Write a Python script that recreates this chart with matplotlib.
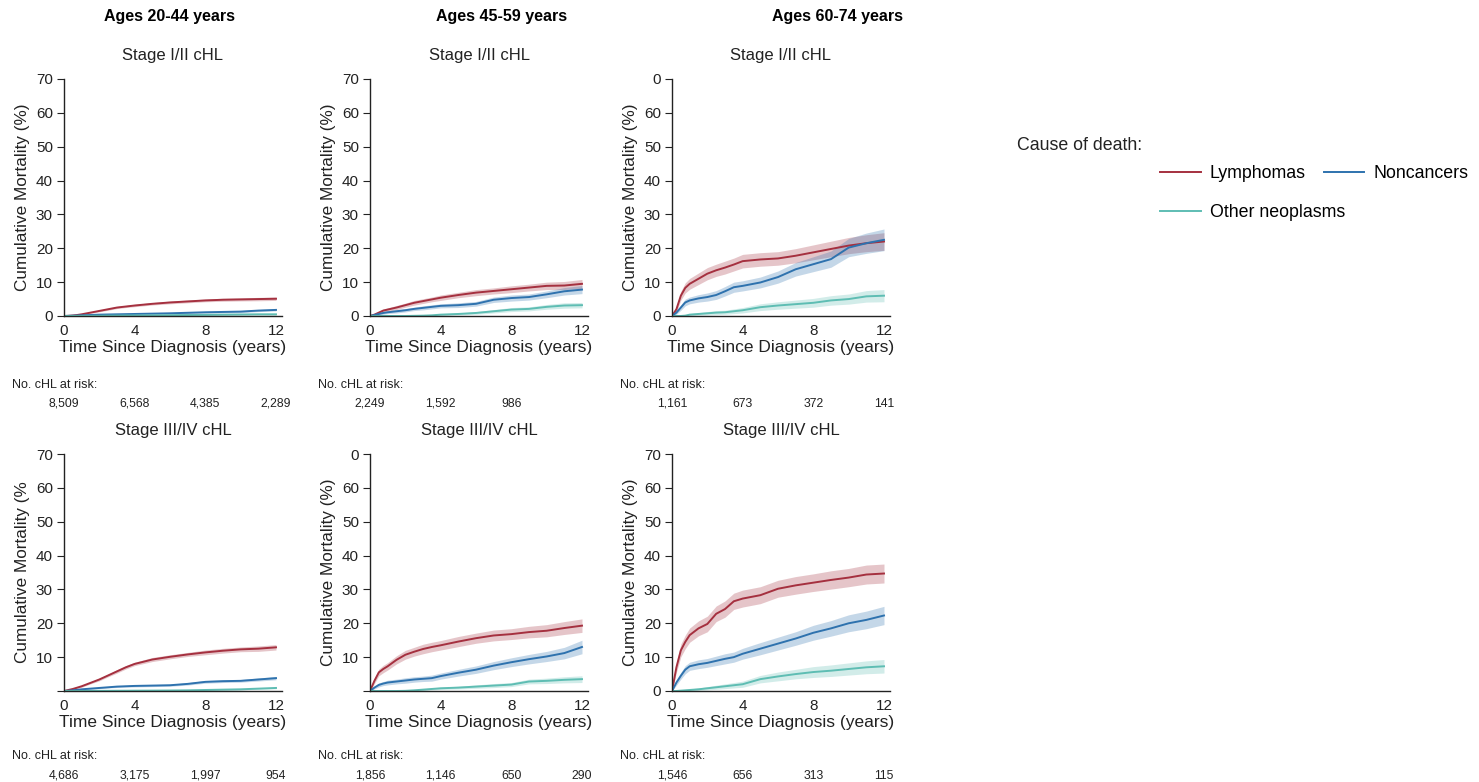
import matplotlib
matplotlib.use("Agg")
import matplotlib.pyplot as plt
from matplotlib.transforms import blended_transform_factory

plt.rcParams['font.family'] = ['Liberation Sans', 'DejaVu Sans']

# years since diagnosis (shared grid for all panels)
years = [0, 0.25, 0.5, 0.75, 1, 1.5, 2, 2.5, 3, 3.5, 4, 5, 6, 7, 8, 9, 10, 11, 12]

# ages 20-44, stage I/II
lym_a = [0, 0.05, 0.15, 0.3, 0.5, 1.0, 1.5, 2.0, 2.5, 2.8, 3.1, 3.6, 4.0, 4.3, 4.6, 4.8, 4.9, 5.0, 5.1]
lym_a_ci = [0, 0.05, 0.1, 0.1, 0.15, 0.2, 0.25, 0.3, 0.3, 0.3, 0.35, 0.35, 0.4, 0.4, 0.4, 0.45, 0.45, 0.5, 0.5]
non_a = [0, 0.05, 0.1, 0.15, 0.2, 0.3, 0.4, 0.45, 0.5, 0.55, 0.6, 0.7, 0.8, 0.95, 1.1, 1.2, 1.3, 1.6, 1.8]
non_a_ci = [0, 0.05, 0.05, 0.1, 0.1, 0.1, 0.15, 0.15, 0.15, 0.15, 0.2, 0.2, 0.2, 0.2, 0.25, 0.25, 0.3, 0.3, 0.3]
oth_a = [0, 0, 0, 0.02, 0.03, 0.05, 0.07, 0.1, 0.12, 0.15, 0.17, 0.2, 0.25, 0.3, 0.35, 0.4, 0.45, 0.5, 0.5]
oth_a_ci = [0, 0, 0, 0.02, 0.03, 0.05, 0.05, 0.08, 0.08, 0.1, 0.1, 0.1, 0.12, 0.15, 0.15, 0.15, 0.2, 0.2, 0.2]

# ages 45-59, stage I/II
lym_b = [0, 0.4, 1.0, 1.6, 1.9, 2.5, 3.2, 3.9, 4.4, 4.9, 5.4, 6.2, 6.9, 7.4, 7.9, 8.4, 8.9, 9.0, 9.5]
lym_b_ci = [0, 0.2, 0.4, 0.5, 0.5, 0.6, 0.6, 0.7, 0.7, 0.7, 0.8, 0.8, 0.9, 0.9, 1.0, 1.0, 1.1, 1.2, 1.3]
non_b = [0, 0.3, 0.6, 0.9, 1.1, 1.4, 1.7, 2.1, 2.4, 2.7, 3.0, 3.2, 3.6, 4.8, 5.3, 5.6, 6.4, 7.3, 7.8]
non_b_ci = [0, 0.2, 0.3, 0.4, 0.4, 0.5, 0.5, 0.5, 0.6, 0.6, 0.6, 0.7, 0.7, 0.8, 0.9, 0.9, 1.0, 1.1, 1.2]
oth_b = [0, 0, 0, 0, 0, 0, 0, 0.05, 0.1, 0.2, 0.4, 0.6, 0.9, 1.4, 1.9, 2.1, 2.7, 3.1, 3.2]
oth_b_ci = [0, 0, 0, 0, 0, 0, 0, 0.05, 0.1, 0.15, 0.25, 0.3, 0.4, 0.5, 0.6, 0.6, 0.7, 0.8, 0.8]

# ages 60-74, stage I/II
lym_c = [0, 2.0, 6.0, 8.3, 9.5, 11.0, 12.5, 13.5, 14.3, 15.2, 16.2, 16.7, 17.0, 17.8, 18.8, 19.8, 20.8, 21.5, 22.0]
lym_c_ci = [0, 0.8, 1.3, 1.5, 1.6, 1.7, 1.8, 1.8, 1.9, 1.9, 2.0, 2.0, 2.0, 2.1, 2.2, 2.3, 2.4, 2.5, 2.6]
non_c = [0, 1.0, 2.5, 4.0, 4.6, 5.2, 5.6, 6.2, 7.3, 8.5, 8.9, 9.9, 11.5, 13.8, 15.3, 16.8, 20.2, 21.5, 22.5]
non_c_ci = [0, 0.5, 0.8, 1.0, 1.0, 1.1, 1.2, 1.3, 1.4, 1.5, 1.5, 1.6, 1.8, 2.0, 2.2, 2.4, 2.7, 3.0, 3.2]
oth_c = [0, 0, 0, 0.1, 0.4, 0.6, 0.8, 1.0, 1.1, 1.4, 1.7, 2.6, 3.1, 3.5, 3.9, 4.6, 5.0, 5.8, 6.0]
oth_c_ci = [0, 0, 0, 0.1, 0.3, 0.4, 0.5, 0.6, 0.6, 0.7, 0.8, 1.0, 1.1, 1.2, 1.3, 1.4, 1.5, 1.7, 1.8]

# ages 20-44, stage III/IV
lym_d = [0, 0.3, 0.6, 1.0, 1.4, 2.4, 3.4, 4.6, 5.8, 7.0, 8.0, 9.3, 10.1, 10.8, 11.4, 11.9, 12.3, 12.5, 12.9]
lym_d_ci = [0, 0.1, 0.2, 0.2, 0.3, 0.3, 0.4, 0.4, 0.5, 0.5, 0.5, 0.6, 0.6, 0.6, 0.7, 0.7, 0.7, 0.8, 0.8]
non_d = [0, 0.1, 0.2, 0.35, 0.5, 0.7, 0.9, 1.1, 1.3, 1.4, 1.5, 1.6, 1.7, 2.1, 2.7, 2.9, 3.0, 3.4, 3.8]
non_d_ci = [0, 0.05, 0.1, 0.1, 0.15, 0.2, 0.2, 0.2, 0.25, 0.25, 0.3, 0.3, 0.3, 0.35, 0.4, 0.4, 0.4, 0.45, 0.5]
oth_d = [0, 0, 0, 0, 0.02, 0.03, 0.05, 0.05, 0.07, 0.08, 0.1, 0.12, 0.15, 0.2, 0.3, 0.4, 0.5, 0.7, 0.9]
oth_d_ci = [0, 0, 0, 0, 0.02, 0.03, 0.05, 0.05, 0.05, 0.07, 0.08, 0.1, 0.1, 0.12, 0.15, 0.15, 0.2, 0.2, 0.25]

# ages 45-59, stage III/IV
lym_e = [0, 3.0, 5.5, 6.5, 7.3, 9.2, 10.7, 11.6, 12.4, 13.0, 13.5, 14.6, 15.6, 16.4, 16.8, 17.4, 17.8, 18.6, 19.3]
lym_e_ci = [0, 0.8, 1.0, 1.1, 1.1, 1.2, 1.3, 1.3, 1.4, 1.4, 1.4, 1.5, 1.5, 1.6, 1.6, 1.7, 1.8, 1.9, 2.0]
non_e = [0, 1.0, 1.8, 2.2, 2.5, 2.8, 3.1, 3.4, 3.6, 3.8, 4.4, 5.4, 6.3, 7.5, 8.5, 9.4, 10.2, 11.2, 13.0]
non_e_ci = [0, 0.4, 0.6, 0.6, 0.7, 0.7, 0.8, 0.8, 0.8, 0.9, 0.9, 1.0, 1.1, 1.2, 1.3, 1.4, 1.5, 1.7, 2.0]
oth_e = [0, 0, 0, 0, 0, 0, 0.05, 0.2, 0.4, 0.6, 0.8, 1.0, 1.3, 1.6, 1.9, 2.8, 3.0, 3.3, 3.5]
oth_e_ci = [0, 0, 0, 0, 0, 0, 0.05, 0.15, 0.25, 0.3, 0.35, 0.4, 0.5, 0.6, 0.6, 0.7, 0.8, 0.9, 1.0]

# ages 60-74, stage III/IV
lym_f = [0, 7.0, 12.0, 14.5, 16.5, 18.5, 19.8, 22.8, 24.2, 26.5, 27.3, 28.3, 30.2, 31.2, 32.0, 32.8, 33.5, 34.4, 34.7]
lym_f_ci = [0, 1.5, 1.9, 2.0, 2.1, 2.2, 2.3, 2.3, 2.4, 2.4, 2.5, 2.5, 2.5, 2.6, 2.6, 2.7, 2.7, 2.8, 2.8]
non_f = [0, 2.5, 4.5, 6.3, 7.3, 7.9, 8.3, 8.9, 9.5, 10.0, 11.0, 12.5, 14.0, 15.5, 17.2, 18.5, 20.0, 21.0, 22.3]
non_f_ci = [0, 0.8, 1.0, 1.2, 1.2, 1.3, 1.3, 1.4, 1.5, 1.5, 1.6, 1.8, 1.9, 2.0, 2.2, 2.3, 2.5, 2.6, 2.7]
oth_f = [0, 0, 0.1, 0.2, 0.3, 0.5, 0.8, 1.1, 1.4, 1.7, 2.0, 3.5, 4.3, 5.0, 5.6, 6.0, 6.5, 7.0, 7.3]
oth_f_ci = [0, 0, 0.1, 0.2, 0.3, 0.4, 0.5, 0.6, 0.7, 0.8, 0.9, 1.1, 1.3, 1.4, 1.6, 1.7, 1.8, 1.9, 2.0]

# numbers at risk at 0, 4, 8, 12 years
risk_years = [0, 4, 8, 12]
risk_a = ['8,509', '6,568', '4,385', '2,289']
risk_b = ['2,249', '1,592', '986', '']
risk_c = ['1,161', '673', '372', '141']
risk_d = ['4,686', '3,175', '1,997', '954']
risk_e = ['1,856', '1,146', '650', '290']
risk_f = ['1,546', '656', '313', '115']

age_titles = ['Ages 20-44 years', 'Ages 45-59 years', 'Ages 60-74 years']
stage_titles = ['Stage I/II cHL', 'Stage III/IV cHL']
causes = ['Lymphomas', 'Noncancers', 'Other neoplasms']
colors = ['#a5303f', '#2e72ae', '#5ebdb3']

# y tick labels as printed in the source (some were clipped there)
ylab_full = ['0', '10', '20', '30', '40', '50', '60', '70']
ylab_top0 = ['0', '10', '20', '30', '40', '50', '60', '0']
ylab_nobot = ['', '10', '20', '30', '40', '50', '60', '70']
ylab_nobot_top0 = ['', '10', '20', '30', '40', '50', '60', '0']

panels = [
    (0, 0, [lym_a, non_a, oth_a], [lym_a_ci, non_a_ci, oth_a_ci], risk_a, ylab_full, 'Cumulative Mortality (%)'),
    (0, 1, [lym_b, non_b, oth_b], [lym_b_ci, non_b_ci, oth_b_ci], risk_b, ylab_full, 'Cumulative Mortality (%)'),
    (0, 2, [lym_c, non_c, oth_c], [lym_c_ci, non_c_ci, oth_c_ci], risk_c, ylab_top0, 'Cumulative Mortality (%)'),
    (1, 0, [lym_d, non_d, oth_d], [lym_d_ci, non_d_ci, oth_d_ci], risk_d, ylab_nobot, 'Cumulative Mortality (%'),
    (1, 1, [lym_e, non_e, oth_e], [lym_e_ci, non_e_ci, oth_e_ci], risk_e, ylab_nobot_top0, 'Cumulative Mortality (%)'),
    (1, 2, [lym_f, non_f, oth_f], [lym_f_ci, non_f_ci, oth_f_ci], risk_f, ylab_full, 'Cumulative Mortality (%)'),
]

W, H = 1479, 782
fig = plt.figure(figsize=(W / 100, H / 100), dpi=100)

col_left = [64, 370, 672]
row_bottom = [316, 691]
ax_w, ax_h = 218, 237
ink = '#222222'

handles = None
for row, col, curves, cis, risk, ylabs, ylabel in panels:
    ax = fig.add_axes([col_left[col] / W, (H - row_bottom[row]) / H, ax_w / W, ax_h / H])
    hs = []
    for vals, ci, c, name in zip(curves, cis, colors, causes):
        lo = [max(v - e, 0) for v, e in zip(vals, ci)]
        hi = [v + e for v, e in zip(vals, ci)]
        ax.fill_between(years, lo, hi, color=c, alpha=0.28, lw=0)
        h, = ax.plot(years, vals, color=c, lw=1.4, label=name)
        hs.append(h)
    handles = hs
    ax.set_xlim(0, 12.34)
    ax.set_ylim(0, 70)
    ax.set_xticks([0, 4, 8, 12])
    ax.set_yticks(range(0, 71, 10))
    ax.set_yticklabels(ylabs)
    for s in ['top', 'right']:
        ax.spines[s].set_visible(False)
    for s in ['left', 'bottom']:
        ax.spines[s].set_color(ink)
        ax.spines[s].set_linewidth(1.0)
    ax.tick_params(axis='y', length=5, width=0.8, color=ink, labelsize=11, labelcolor=ink, pad=3)
    ax.tick_params(axis='x', length=0, labelsize=11, labelcolor=ink, pad=6)
    ax.set_xlabel('Time Since Diagnosis (years)', fontsize=12.5, color=ink, labelpad=1)
    ax.set_ylabel(ylabel, fontsize=12.3, color=ink, labelpad=4)
    ax.set_title(stage_titles[row], fontsize=12, color=ink, pad=14)

    # numbers at risk
    tr = blended_transform_factory(ax.transData, fig.transFigure)
    y_head = (H - (385 if row == 0 else 756)) / H
    y_num = (H - (404 if row == 0 else 776)) / H
    fig.text((col_left[col] - 52) / W, y_head, 'No. cHL at risk:', fontsize=9, color=ink, va='center')
    for t, n in zip(risk_years, risk):
        fig.text(t, y_num, n, transform=tr, fontsize=8.8, color=ink, ha='center', va='center')

age_x = [170, 502, 837]
for x, t in zip(age_x, age_titles):
    fig.text(x / W, (H - 16) / H, t, fontsize=11.5, fontweight='bold', ha='center', va='center', color='black')

fig.text(1017 / W, (H - 146) / H, 'Cause of death:', fontsize=12.8, color=ink, va='center')
leg_kw = dict(loc='upper left', frameon=False, fontsize=12.8, handlelength=2.3, handletextpad=0.5,
              columnspacing=1.0, borderpad=0, borderaxespad=0)
fig.legend(handles[:2], causes[:2], ncol=2, bbox_to_anchor=(1160 / W, (H - 165) / H), **leg_kw)
fig.legend(handles[2:], causes[2:], ncol=1, bbox_to_anchor=(1160 / W, (H - 204) / H), **leg_kw)

fig.savefig('out.png', dpi=100)
